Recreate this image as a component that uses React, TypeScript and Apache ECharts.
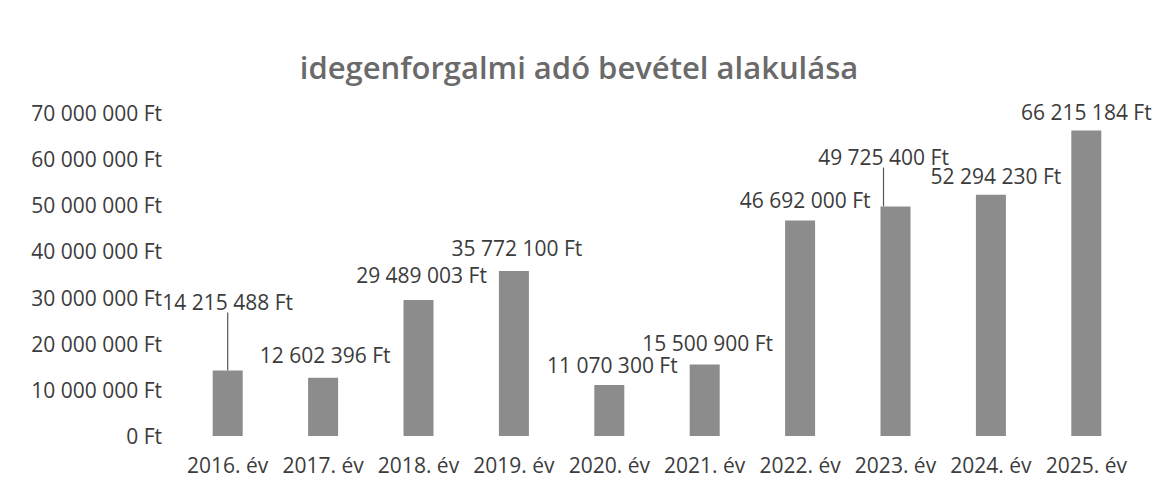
import React, { useEffect, useRef } from "react";
import * as echarts from "echarts";

const title = "idegenforgalmi adó bevétel alakulása";
const categories = [
  "2016. év", "2017. év", "2018. év", "2019. év", "2020. év",
  "2021. év", "2022. év", "2023. év", "2024. év", "2025. év",
];
const revenues = [
  14215488, 12602396, 29489003, 35772100, 11070300,
  15500900, 46692000, 49725400, 52294230, 66215184,
];
const yMin = 0;
const yMax = 70000000;
const yStep = 10000000;

// label placement tweaks (style), and which labels get a leader line
const labelShift: [number, number][] = [
  [0, -53], [2, -7], [3, -9], [3, -7], [3, -4],
  [3, -6], [5, -5], [-12, -34], [5, -3], [0, -3],
];
const leaderLine = [true, false, false, false, false, false, false, true, false, false];

const fmt = (n: number) =>
  String(Math.round(n)).replace(/\B(?=(\d{3})+(?!\d))/g, " ") + " Ft";

export default function App() {
  const ref = useRef<HTMLDivElement>(null);
  useEffect(() => {
    if (!ref.current) return;
    const chart = echarts.init(ref.current, null, { renderer: "svg" });
    const font = "'Open Sans', 'Noto Sans', sans-serif";
    chart.setOption({
      animation: false,
      backgroundColor: "#ffffff",
      title: {
        text: title,
        left: "center",
        top: 46,
        textStyle: {
          fontFamily: font,
          fontSize: 31,
          fontWeight: 600,
          color: "#6a6a6a",
        },
      },
      grid: { left: 180, right: 24, top: 113, bottom: 61, containLabel: false },
      xAxis: {
        type: "category",
        data: categories,
        axisLine: { show: false },
        axisTick: { show: false },
        axisLabel: {
          fontFamily: font,
          fontSize: 21,
          color: "#3c3c3c",
          margin: 18,
          interval: 0,
        },
      },
      yAxis: {
        type: "value",
        min: yMin,
        max: yMax,
        interval: yStep,
        axisLine: { show: false },
        axisTick: { show: false },
        splitLine: { show: false },
        axisLabel: {
          fontFamily: font,
          fontSize: 21,
          color: "#3c3c3c",
          margin: 18,
          formatter: (v: number) => fmt(v),
        },
      },
      series: [
        {
          type: "bar",
          barWidth: 30,
          itemStyle: { color: "#8c8c8c" },
          data: revenues.map((v, i) => ({
            value: v,
            labelLine: {
              show: leaderLine[i],
              lineStyle: { color: "#555555", width: 1.2 },
            },
          })),
          label: {
            show: true,
            position: "top",
            distance: 5,
            fontFamily: font,
            fontSize: 21,
            color: "#3c3c3c",
            formatter: (p: any) => fmt(p.value),
          },
          labelLine: { show: false },
          labelLayout: (p: any) => ({
            dx: labelShift[p.dataIndex][0],
            dy: labelShift[p.dataIndex][1],
          }),
        },
      ],
    });
    return () => chart.dispose();
  }, []);
  return (
    <div
      ref={ref}
      style={{ position: "fixed", left: 0, top: 0, width: 1158, height: 497 }}
    />
  );
}
